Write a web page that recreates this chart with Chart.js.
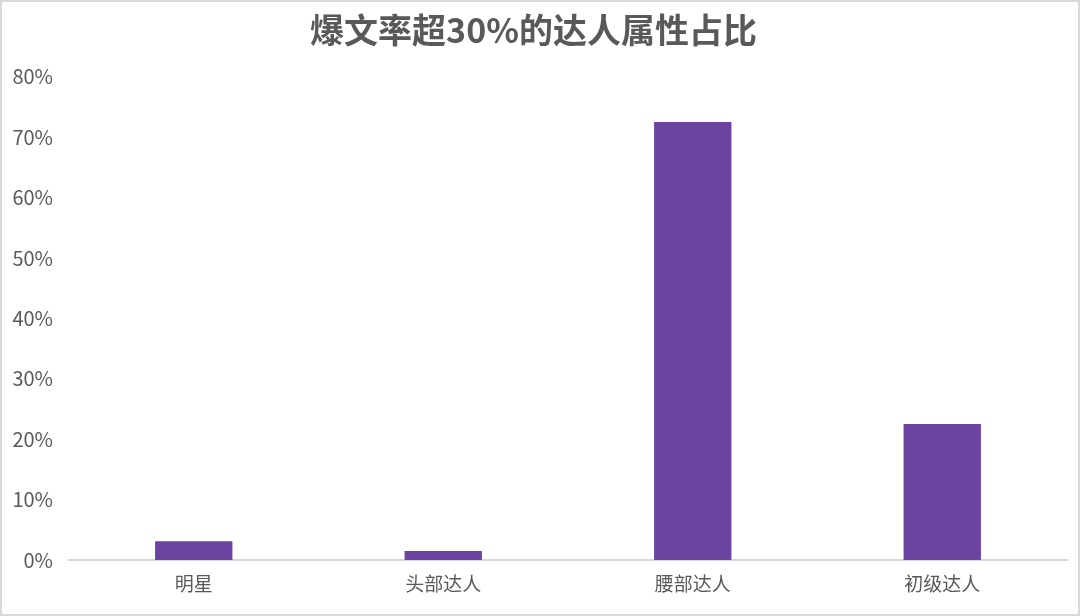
<!DOCTYPE html>
<html>
<head>
<meta charset="utf-8">
<script src="https://cdn.jsdelivr.net/npm/chart.js@4"></script>
<style>
  html, body { margin: 0; padding: 0; background: #fff; }
  #wrap { width: 1080px; height: 616px; position: relative; }
</style>
</head>
<body>
<div id="wrap"><canvas id="myCanvas"></canvas></div>
<script>
const categories = ["明星", "头部达人", "腰部达人", "初级达人"];
const shares = [3.1, 1.5, 72.5, 22.5];
const titleText = "爆文率超30%的达人属性占比";

const fontFamily = "'Noto Sans CJK SC', 'Noto Sans', sans-serif";

// white background and thin frame around the whole picture
const frame = {
  id: "frame",
  beforeDraw(chart) {
    const c = chart.ctx;
    c.save();
    c.fillStyle = "#ffffff";
    c.fillRect(0, 0, chart.width, chart.height);
    c.strokeStyle = "#d9d9d9";
    c.lineWidth = 2;
    c.strokeRect(1, 1, chart.width - 2, chart.height - 2);
    c.restore();
  }
};

const ctx = document.getElementById("myCanvas").getContext("2d");
const chart = new Chart(ctx, {
  type: "bar",
  data: {
    labels: categories,
    datasets: [{
      label: "占比",
      data: shares,
      backgroundColor: "#6a44a0",
      borderWidth: 0,
      barPercentage: 0.31,
      categoryPercentage: 1
    }]
  },
  options: {
    responsive: true,
    maintainAspectRatio: false,
    animation: false,
    layout: { padding: { left: 0, right: 13, top: 0, bottom: 0 } },
    scales: {
      x: {
        grid: { display: false, drawTicks: false },
        border: { display: true, color: "#d9d9d9", width: 2 },
        ticks: {
          color: "#595959",
          padding: 12,
          font: { family: fontFamily, size: 19 }
        },
        afterFit(scale) { scale.height = 56; }
      },
      y: {
        min: 0,
        max: 80,
        grid: { display: false, drawTicks: false },
        border: { display: false },
        ticks: {
          stepSize: 10,
          color: "#595959",
          padding: 16,
          font: { family: fontFamily, size: 20 },
          callback: v => v + "%"
        },
        afterFit(scale) { scale.width = 69; }
      }
    },
    plugins: {
      legend: { display: false },
      tooltip: { enabled: false },
      title: {
        display: true,
        text: titleText,
        color: "#595959",
        font: { family: fontFamily, size: 34, weight: "bold" },
        padding: { top: 10, bottom: 26 }
      }
    }
  },
  plugins: [frame]
});
</script>
</body>
</html>
